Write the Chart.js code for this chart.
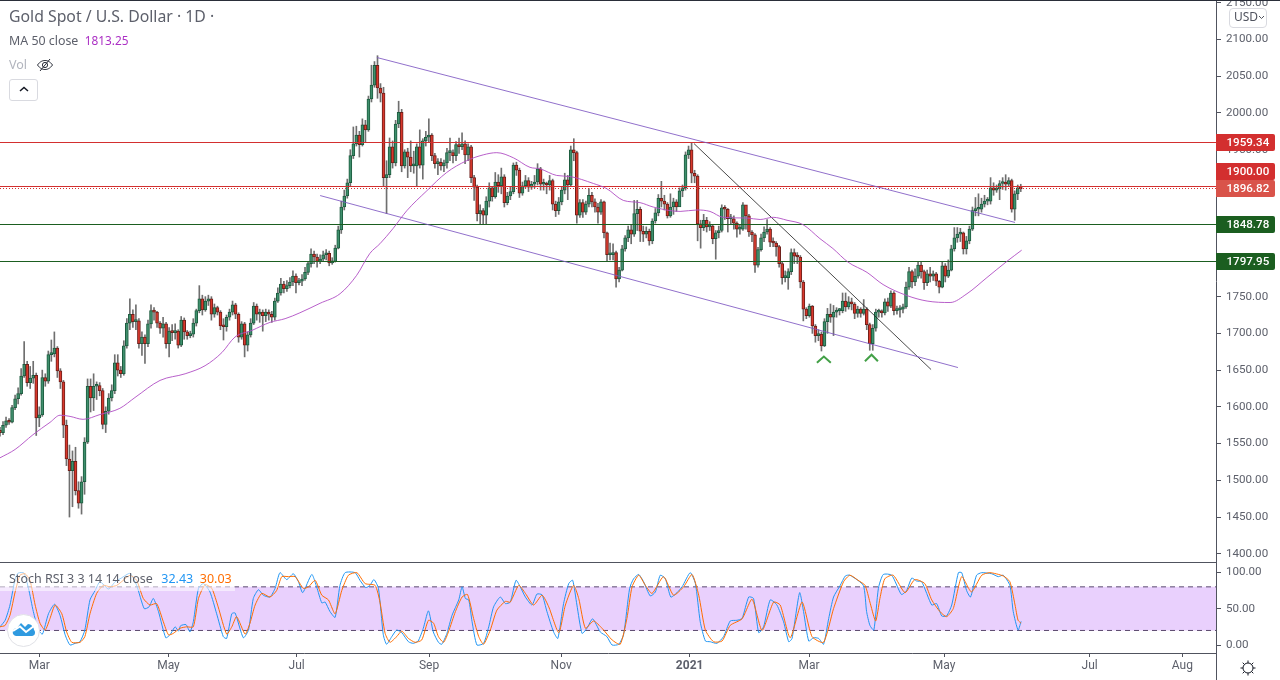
<!DOCTYPE html>
<html><head><meta charset="utf-8">
<script src="https://cdn.jsdelivr.net/npm/chart.js@4/dist/chart.umd.min.js"></script>
<style>
html,body{margin:0;padding:0;background:#fff;overflow:hidden}
body{width:1280px;height:680px;position:relative;font-family:"Noto Sans",sans-serif;color:#50535e}
canvas{position:absolute;left:0}
.t{position:absolute;white-space:pre;line-height:1}
.rule{position:absolute;background:#50535e}
</style></head><body>
<canvas id="main" width="1280" height="562" style="top:0"></canvas>
<canvas id="rsi" width="1280" height="117" style="top:563px"></canvas>
<div class="rule" style="left:0;top:0;width:1280px;height:1px;background:#2a2e39"></div>
<div class="rule" style="left:0;top:562px;width:1217px;height:1px"></div>
<div class="rule" style="left:1216px;top:653px;width:1px;height:27px"></div>
<div class="t" style="left:9px;top:9px;font-size:15.8px;color:#5d606b">Gold Spot / U.S. Dollar · 1D ·</div>
<div class="t" style="left:9px;top:35px;font-size:12.4px;color:#5d606b">MA 50 close  <span style="color:#ab2fc4;font-size:11.8px">1813.25</span></div>
<div class="t" style="left:9px;top:59px;font-size:12.5px;color:#b2b5be">Vol</div>
<svg style="position:absolute;left:36px;top:57px" width="18" height="16" viewBox="0 0 18 16" fill="none" stroke="#2a2e39" stroke-width="1"><path d="M1.5 8C4 4.5 6.500 3.500 9 3.500S14 4.500 16.500 8C14 11.500 11.500 12.500 9 12.500S4 11.500 1.500 8Z"/><circle cx="9" cy="8" r="2.600"/><path d="M4 14L14 2"/></svg>
<div style="position:absolute;left:9px;top:79px;width:27px;height:20px;border:1px solid #d9dae0;border-radius:3px;background:#fff"></div>
<svg style="position:absolute;left:18px;top:85px" width="12" height="8" fill="none" stroke="#131722" stroke-width="1.500"><path d="M2 6L6 2.500L10 6"/></svg>
<div class="t" style="left:1229px;top:8px;width:36px;height:18px;border:1px solid #d9dae0;border-radius:4px;background:#fff"></div>
<div class="t" style="left:1234px;top:11px;font-size:12px;color:#50535e">USD</div>
<svg style="position:absolute;left:1258px;top:13px" width="8" height="8" fill="none" stroke="#50535e"><path d="M1 3L3.500 5.500L6 3"/></svg>
<div style="position:absolute;left:0;top:571px;width:235px;height:20px;background:rgba(255,255,255,.55)"></div>
<div class="t" style="left:9px;top:573px;font-size:12.5px;color:#5d606b">Stoch RSI 3 3 14 14 close  <span style="color:#2196f3;margin-left:2px">32.43</span>  <span style="color:#ff6d00">30.03</span></div>
<div style="position:absolute;left:7px;top:614px;width:31px;height:31px;border:1px solid #e0e1e6;border-radius:50%;background:#fff"></div>
<svg style="position:absolute;left:12px;top:620px" width="24" height="18" viewBox="0 0 24 18"><path d="M1 14C0 10 3 8 5 8L9 3L13 7L16 4C19 4 22 7 22 10C24 12 23 16 20 16H4C3 16 2 15 1 14Z" fill="#2f9ae0"/><path d="M1 11L8 6.500L14 12L22 6" stroke="#fff" stroke-width="2" fill="none"/></svg>
<svg style="position:absolute;left:1239px;top:659px" width="18" height="18" viewBox="0 0 18 18" fill="none" stroke="#131722"><circle cx="9" cy="9" r="5"/><path d="M9 1.500V4M9 14V16.500M1.500 9H4M14 9H16.500M3.700 3.700L5.500 5.500M12.500 12.500L14.300 14.300M3.700 14.300L5.500 12.500M12.500 5.500L14.300 3.700"/></svg>
<script>
// ---- candle values (one entry per session) ----
const closes=[1565,1575,1581,1579,1599,1611,1618,1642,1658,1633,1639,1643,1585,1589,1640,1635,1671,1672,1680,1649,1634,1575,1529,1513,1526,1486,1469,1498,1552,1628,1612,1628,1629,1622,1576,1594,1612,1622,1660,1650,1645,1683,1714,1726,1716,1717,1686,1695,1686,1713,1731,1729,1714,1707,1713,1686,1703,1701,1703,1684,1718,1702,1697,1699,1714,1731,1747,1732,1744,1747,1726,1735,1729,1710,1709,1722,1729,1739,1726,1695,1713,1684,1698,1714,1737,1726,1729,1724,1729,1726,1722,1744,1755,1767,1761,1765,1770,1778,1769,1771,1774,1783,1795,1808,1804,1798,1801,1807,1809,1796,1798,1816,1841,
1872,1887,1905,1942,1958,1970,1957,1984,1977,2019,2038,2065,2034,2027,1912,1916,1954,1932,1985,2001,1928,1947,1940,1928,1928,1954,1929,1962,1967,1970,1942,1931,1933,1928,1932,1946,1946,1942,1957,1954,1958,1943,1954,1912,1899,1863,1867,1861,1880,1898,1886,1906,1901,1913,1878,1887,1893,1929,1922,1891,1901,1908,1899,1903,1906,1924,1903,1903,1902,1908,1876,1867,1879,1895,1909,1902,1950,1946,1861,1878,1865,1876,1888,1879,1872,1865,1879,1837,1807,1807,1810,1774,1786,1815,1830,1841,1835,1863,1869,1839,1835,1839,1826,1853,1864,1884,1880,1876,1860,1872,1879,1872,
1894,1898,1943,1950,1918,1914,1849,1844,1854,1845,1846,1829,1837,1840,1871,1869,1856,1856,1850,1842,1842,1875,1860,1838,1834,1793,1814,1830,1838,1842,1824,1823,1818,1795,1776,1776,1784,1810,1805,1804,1770,1733,1724,1737,1710,1697,1699,1683,1716,1726,1722,1729,1731,1731,1744,1736,1743,1740,1727,1733,1727,1733,1712,1686,1707,1729,1729,1728,1743,1737,1755,1731,1732,1733,1736,1763,1784,1770,1778,1793,1784,1769,1781,1778,1781,1771,1763,1792,1778,1786,1815,1830,1835,1837,1815,1826,1842,1867,1869,1869,1876,1880,1880,1898,1895,1897,1904,1906,1903,1908,1869,1890,1898,1897];
const highs=[1572,1580,1586,1584,1602,1616,1626,1652,1689,1662,1655,1662,1646,1600,1650,1645,1676,1691,1702,1682,1652,1636,1582,1548,1540,1545,1498,1505,1558,1638,1638,1645,1634,1633,1625,1600,1618,1630,1671,1671,1655,1690,1720,1747,1732,1739,1720,1702,1698,1718,1739,1735,1730,1716,1722,1715,1708,1712,1713,1705,1723,1721,1704,1703,1720,1733,1765,1752,1750,1752,1750,1740,1737,1731,1720,1725,1733,1744,1741,1728,1716,1715,1702,1720,1742,1740,1733,1732,1733,1732,1730,1748,1762,1775,1771,1772,1776,1785,1781,1775,1780,1790,1798,1815,1812,1808,1807,1812,1814,1812,1803,1820,1846,
1880,1895,1910,1950,1981,1982,1975,1992,1990,2023,2065,2070,2078,2040,2035,1935,1966,1962,1990,2016,2005,1950,1952,1962,1948,1958,1977,1965,1975,1992,1972,1945,1938,1938,1936,1952,1966,1950,1961,1966,1973,1962,1958,1956,1915,1902,1875,1870,1886,1905,1900,1919,1916,1925,1916,1892,1900,1932,1933,1925,1906,1915,1912,1907,1915,1931,1926,1910,1906,1915,1910,1880,1885,1900,1918,1915,1955,1965,1948,1882,1882,1880,1897,1892,1883,1877,1882,1880,1838,1823,1822,1812,1790,1820,1833,1846,1848,1881,1881,1872,1846,1845,1842,1856,1870,1889,1907,1888,1878,1890,1884,1882,
1898,1902,1947,1955,1959,1922,1916,1854,1862,1858,1852,1848,1840,1846,1875,1874,1870,1862,1860,1852,1848,1878,1870,1862,1840,1836,1817,1835,1845,1855,1844,1830,1825,1820,1797,1785,1788,1815,1815,1810,1806,1772,1735,1740,1738,1712,1705,1702,1720,1734,1740,1738,1735,1734,1755,1755,1750,1748,1742,1737,1735,1746,1735,1714,1712,1733,1733,1732,1747,1748,1758,1757,1737,1738,1740,1770,1790,1786,1788,1797,1797,1786,1786,1790,1785,1783,1772,1797,1795,1800,1820,1844,1844,1843,1838,1832,1846,1872,1885,1890,1884,1888,1885,1912,1905,1902,1908,1912,1916,1912,1910,1894,1902,1903];
const lows=[1560,1562,1572,1576,1578,1596,1604,1616,1640,1628,1625,1632,1561,1573,1587,1628,1632,1662,1668,1640,1625,1558,1520,1450,1464,1480,1462,1454,1481,1550,1593,1595,1610,1615,1570,1565,1590,1608,1618,1642,1640,1643,1680,1705,1708,1705,1680,1670,1659,1682,1707,1718,1708,1700,1695,1680,1668,1690,1692,1680,1682,1692,1692,1694,1695,1710,1728,1725,1730,1738,1718,1722,1725,1705,1691,1703,1718,1725,1720,1688,1692,1668,1676,1695,1712,1718,1715,1703,1716,1718,1715,1718,1742,1752,1755,1757,1762,1765,1755,1766,1765,1772,1780,1790,1795,1790,1795,1798,1800,1792,1794,1797,1815,
1836,1868,1884,1900,1938,1955,1940,1955,1960,1975,2015,2035,2020,2015,1900,1863,1912,1925,1928,1980,1920,1925,1912,1920,1918,1901,1925,1910,1955,1960,1935,1925,1916,1922,1920,1925,1935,1932,1935,1945,1950,1931,1935,1905,1881,1853,1848,1848,1848,1872,1880,1884,1892,1890,1872,1875,1882,1890,1915,1885,1888,1898,1893,1896,1898,1902,1895,1895,1890,1895,1868,1859,1862,1875,1890,1882,1900,1935,1850,1858,1858,1862,1872,1872,1865,1850,1862,1830,1799,1800,1800,1763,1770,1785,1812,1825,1822,1832,1840,1825,1825,1830,1820,1822,1850,1860,1872,1868,1857,1858,1862,1866,
1880,1886,1895,1938,1905,1905,1826,1816,1840,1838,1840,1822,1801,1830,1838,1855,1838,1848,1842,1831,1835,1840,1842,1832,1825,1783,1790,1812,1825,1835,1818,1818,1805,1790,1767,1770,1760,1780,1795,1795,1762,1717,1720,1722,1700,1688,1690,1676,1682,1700,1715,1697,1722,1725,1728,1730,1733,1732,1720,1722,1722,1725,1705,1677,1677,1703,1722,1722,1725,1730,1735,1725,1726,1722,1728,1734,1760,1762,1765,1775,1775,1760,1765,1770,1772,1765,1755,1762,1770,1776,1785,1812,1824,1825,1808,1808,1822,1840,1860,1860,1865,1872,1875,1876,1888,1892,1882,1896,1895,1900,1865,1854,1882,1893];
const firstOpen=1568;

// ---- MA 50 readings (session position, price) ----
const maAt=[0,5,10.9,16.6,19.9,23.2,27.5,33.1,39.7,44.7,53,61.3,67.9,73.5,77.8,83.4,89.4,94.4,99.3,106,112.6,118.1,122.5,125.8,130.2,134.7,141.3,147.9,154.5,160,164.5,170,175.5,178.8,184.3,188.7,196.5,200.9,206.4,211.9,216.3,225.2,230.8,235.1,239.4,247.4,251.7,256,260.6,265.9,271.5,275.8,280.8,287.1,292.4,300.3,307,314.6,320.2,326.8,333.4,338.3];
const maValues=[1530.6,1542,1562,1579,1588.6,1587,1583,1589.5,1598,1612.7,1636,1645,1656,1674,1695,1704,1715,1720,1728,1741,1754,1779,1809,1822,1843,1867,1894,1919,1935,1943,1946,1939,1926,1924,1915,1913.5,1904,1897,1881,1878,1872,1866,1868,1866,1858,1857,1855,1858,1854,1848,1829,1815.5,1797,1783,1766.5,1751.5,1744,1742,1754,1776,1798,1813.25];

// ---- horizontal levels and drawn lines ----
const levelValues=[1959.34,1900,1896.82,1848.78,1797.95];
const levelTags=["1959.34","1900.00","1896.82","1848.78","1797.95"];
const channelTopAt=[124.8,336.1], channelTopValues=[2075.5,1851];
const channelLowAt=[106,317.2], channelLowValues=[1887.6,1653.5];
const breakAt=[229.8,308.3], breakValues=[1958.4,1650.8];
const chevronAAt=[270.5,272.8,275.1], chevronAValues=[1660,1668.5,1660];
const chevronBAt=[286.4,288.6,290.7], chevronBValues=[1662,1671,1662];

// ---- Stoch RSI readings ----
const kAt=[0,1.7,3.3,5,6,7.9,9.4,11,12.7,14,16,18,19.8,21.5,23.1,24.8,26.4,28,29.7,31.4,33,35.8,38,40,42.9,45.1,47.6,49.2,50.6,52.3,54.7,56.1,57.8,58.9,59.6,61.4,62.7,63.8,65.5,67.1,69.3,71.5,73.7,74.8,76.5,77.6,80.3,82,83.6,85.3,86.9,89.1,90.8,92.4,94.6,96.8,98.5,99.9,102.9,104.5,106.2,107.3,108.9,110.6,112.2,113.9,117.2,118.8,120.7,122.1,123.4,124.9,126.5,127.6,129.3,130.9,132.6,134.8,136.4,138,139.7,141.4,143,144.7,145.8,147.5,149.2,151.4,152.5,153.6,154.7,155.8,157.4,159.6,161.3,162.9,165.1,166.8,168.4,170.3,171.7,173.4,175.6,177.2,178.9,180.5,182.7,184.1,186,187.7,189,190.4,192.1,193.7,195.6,198.1,200.3,202,204.2,205.8,207.8,209.1,210.8,212.4,214.6,216.3,217.9,219.6,221.4,223.4,225.1,227.8,229.5,231.1,232.8,234.4,236.6,238.8,241,243.2,244.9,247.1,248.7,250.4,252,254.2,256.4,258.6,260.3,261.4,263.9,265.2,266.9,268.5,270.2,271.8,273.5,275.1,277.3,279,280.5,284.9,286,287.1,288.4,289.9,291.5,294.3,297.5,299.2,300.9,302.5,304.2,307.5,309.1,310.8,312.4,314.1,316.3,317.4,319,320.3,322.3,324,327.3,329.5,331.1,333.3,334.4,336,337];
const kValues=[25,34,55,91,99,99,78,46,20.5,15,43,56,41,14,0,2.3,4.5,20.5,62,75,87,77,87,92,98.5,82,50,52.5,64,46,10,14,25,19,26.5,28,18,32,78,84.5,73,43,11.5,9,43,44,10,20.5,64,76,68.5,66,78,99.5,90,98,87,72,97,80,58,59,46,38,82,99.5,99.5,89,79,82,90,78,14,1,11.5,20.5,17,4.5,2.3,5.5,23,47,18,3.7,1,16,41,62,80,64,62,32,0,2.3,25,52.5,66,57,59,89,80,66,55,70,69,46,18,9,57,84.5,89,55,16,23,36,18,11.5,0,1,14,78,91,97,87,67.5,73,96,91,66,72,80,99.5,84.5,32,5.5,4.5,2.3,11.5,33,34,36.5,66,64,17,25,62,55,32,4.5,9,72,46,5.5,10,9,1,36.5,66,82,95,96,82,46,27,20.5,78,97,96,69.5,75,92,88,87,55,57,40,40,55,99.5,99.5,75,66,96,99.5,98,94,96,82,46,20.5,32.43];
const dAt=[0,1.7,3.3,5,6.6,8.3,9.9,11.6,13.2,14.9,16.5,18.2,20.4,22,23.7,26.4,28,29.7,31.9,34.1,36.3,38.5,40.7,42.9,45.1,47.3,49.5,51.7,53.9,55.6,57.2,59.4,61.6,63.8,65.5,67.7,69.9,72,74.8,76.5,78.1,80.9,82.5,84.2,86.4,89.1,91.3,93,95.2,97.4,100.1,101.8,104,106.2,108.4,110.6,112.8,115,117.8,120.5,123.8,125.4,127.1,128.7,130.9,132.6,134.8,137,139.2,141.4,143.1,144.7,146.4,148,150.3,152.5,154.3,156.3,158,159.6,161.8,164,166.8,168.4,171.2,173.4,176.1,178.9,181.1,184.4,186.6,189.3,191,193.2,195.9,198.7,202,204.7,206.9,208.6,210.8,213,215.2,219,222.3,225.6,228.4,230.6,232.8,235.5,238.3,241,244.9,248.2,251.5,255.3,257.5,260.8,264.7,268,271.8,275.1,278.4,280.5,283.2,285.5,287.1,289,290.4,292,294.8,298.7,301.9,305.2,307.5,310.2,312.4,314.6,317.4,320.6,324,326.7,331.1,333.3,335,336,337];
const dValues=[25,27,41,73,96,98,89,55,30,20.5,36.5,55,43,18,3.7,3.7,11.5,43,71,82,80,82,89,96,89,64,55,57,32,14,16,23,25,25,64,83,78,52.5,15,25,39,15,30,55,71,66,75,94,94,94,78,80,89,68.5,62,43,75,96,99.5,84.5,82,59,16,3.7,11.5,19,9,3.7,7,34,30,11.5,3.7,18,46,66,69.5,36.5,11.5,1,20.5,48,60,59,82,71,55,68.5,52.5,17,55,82,64,23,33,23,7,1,36.5,80,96,82,71,94,68.5,80,97,68.5,20.5,4.5,5.5,27,36,63,20,59,55,10,59,11.5,3.7,50,87,96,89,82,59,33,64,91,96,72,90,84.5,62,46,39,50,94,73,96,99.5,95,87,55,34,30.03];
const bandHigh=80, bandLow=20;

// ---- axis ticks ----
const priceTicks=[2150,2100,2050,2000,1950,1900,1850,1800,1750,1700,1650,1600,1550,1500,1450,1400];
const rsiTicks=[0,50,100];
const timeAt=[12.95,55.6,97.9,141.6,185.2,227.6,267,311.6,359.6,390.2];
const timeLabels=["Mar","May","Jul","Sep","Nov","2021","Mar","May","Jul","Aug"];

const FONT='Roboto, sans-serif', AX='#5d606b', LINE='#50535e';
Chart.defaults.font.family=FONT; Chart.defaults.font.size=11.6;
const zip=(a,b)=>a.map((x,i)=>({x,y:b[i]}));
const opens=closes.map((c,i)=>i?closes[i-1]:firstOpen);
const up=i=>closes[i]>=opens[i];
const span=1216/3.02;
const noPad=s=>{s.paddingTop=s.paddingBottom=s.paddingLeft=s.paddingRight=0};
const lineDs=(data,color,width,extra)=>Object.assign({type:'line',data,borderColor:color,borderWidth:width,pointRadius:0,tension:0,order:2,spanGaps:true},extra||{});
const levelColors=['#d32f2f','#d32f2f','#d32f2f','#1b5e20','#1b5e20'];
const tagColors=['#d32f2f','#d32f2f','#d9534a','#1b5e20','#1b5e20'];
const tagShift=[0,-15,0,0,0];
const levelDs=levelValues.map((v,i)=>lineDs([{x:0,y:v},{x:span,y:v}],levelColors[i],1,Object.assign({crisp:true},i===2?{borderDash:[1,2]}:{})));
const snap=p=>Math.floor(p)+.5;

// keeps the flat level lines on whole pixel rows so they stay sharp
const crispPlugin={id:'crisp',afterDatasetsUpdate(c){
  c.data.datasets.forEach((d,i)=>{ if(d.crisp) c.getDatasetMeta(i).data.forEach(p=>{p.y=snap(p.y)}); });
}};
const tagPlugin={id:'tags',afterDraw(c){
  const g=c.ctx,s=c.scales.y,x0=c.chartArea.right;
  levelValues.forEach((v,i)=>{
    const y=snap(s.getPixelForValue(v))+tagShift[i];
    g.save();g.fillStyle=tagColors[i];g.beginPath();g.roundRect(x0,y-8.5,59,17,[0,2,2,0]);g.fill();
    g.fillStyle='#fff';g.font='500 11.6px '+FONT;g.textAlign='left';g.textBaseline='middle';
    g.fillText(levelTags[i],x0+10.5,y+.5);g.restore();
  });
}};

new Chart(document.getElementById('main'),{type:'bar',plugins:[crispPlugin,tagPlugin],
 data:{datasets:[
  {label:'wick',data:closes.map((c,i)=>({x:i,y:[lows[i],highs[i]]})),backgroundColor:'#6f6f6f',barThickness:1,grouped:false,order:6},
  {label:'body',data:closes.map((c,i)=>({x:i,y:[opens[i],c]})),barThickness:3,grouped:false,order:5,minBarLength:2,borderSkipped:false,borderWidth:1,
    backgroundColor:c=>up(c.dataIndex)?'#3f8f6d':'#d8382c',borderColor:c=>up(c.dataIndex)?'#1d5c3f':'#6e1f1a'},
  lineDs(zip(maAt,maValues),'rgba(176,79,196,.9)',1,{order:1,cubicInterpolationMode:'monotone'}),
  lineDs(zip(channelTopAt,channelTopValues),'rgba(126,87,194,.85)',1),
  lineDs(zip(channelLowAt,channelLowValues),'rgba(126,87,194,.85)',1),
  lineDs(zip(breakAt,breakValues),'rgba(30,30,30,.8)',1),
  lineDs(zip(chevronAAt,chevronAValues),'#43a047',2),
  lineDs(zip(chevronBAt,chevronBValues),'#43a047',2),
  ...levelDs
 ]},
 options:{responsive:false,animation:false,devicePixelRatio:1,layout:{padding:0},
  plugins:{legend:{display:false},tooltip:{enabled:false}},
  scales:{
   x:{type:'linear',display:false,offset:false,min:0,max:span},
   y:{position:'right',min:1388.8,max:2153.8,
      afterFit(s){s.width=64;noPad(s)},
      afterBuildTicks(s){s.ticks=priceTicks.map(value=>({value}))},
      border:{color:LINE},
      grid:{drawOnChartArea:false,tickLength:5,tickColor:LINE},
      ticks:{autoSkip:false,padding:5,color:AX,callback:v=>v.toFixed(2)}}
  }}
});

const rsiSpan=1216/3.03;
new Chart(document.getElementById('rsi'),{type:'line',
 data:{datasets:[
  lineDs([{x:0,y:bandHigh},{x:rsiSpan,y:bandHigh}],'#5b4a6e',1,{borderDash:[5,4],fill:{value:bandLow},backgroundColor:'#e9d0fd',order:5}),
  lineDs([{x:0,y:bandLow},{x:rsiSpan,y:bandLow}],'#5b4a6e',1,{borderDash:[5,4],order:4}),
  lineDs(zip(kAt,kValues),'#2196f3',1,{order:2,tension:.2}),
  lineDs(zip(dAt,dValues),'#ff6d00',1,{order:1,tension:.2})
 ]},
 options:{responsive:false,animation:false,devicePixelRatio:1,layout:{padding:0},
  plugins:{legend:{display:false},tooltip:{enabled:false}},
  scales:{
   x:{type:'linear',min:0,max:rsiSpan,offset:false,
      afterFit(s){s.height=27;noPad(s)},
      afterBuildTicks(s){s.ticks=timeAt.map(value=>({value}))},
      border:{color:LINE},
      grid:{drawOnChartArea:false,tickLength:4,tickColor:LINE},
      ticks:{autoSkip:false,maxRotation:0,padding:2,color:AX,
        font:c=>({size:12,weight:c.index===5?'bold':'normal'}),
        callback:(v,i)=>timeLabels[i]}},
   y:{position:'right',min:-11,max:112.8,
      afterFit(s){s.width=64;noPad(s)},
      afterBuildTicks(s){s.ticks=rsiTicks.map(value=>({value}))},
      border:{color:LINE},
      grid:{drawOnChartArea:false,tickLength:5,tickColor:LINE},
      ticks:{autoSkip:false,padding:5,color:AX,callback:v=>v.toFixed(2)}}
  }}
});
</script>
</body></html>
